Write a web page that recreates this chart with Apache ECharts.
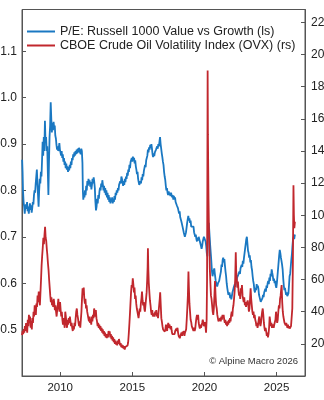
<!DOCTYPE html>
<html>
<head>
<meta charset="utf-8">
<script src="https://cdn.jsdelivr.net/npm/echarts@6/dist/echarts.min.js"></script>
<style>
html,body{margin:0;padding:0;background:#fff;}
#c{width:324px;height:400px;}
</style>
</head>
<body>
<div id="c"></div>
<script>
// P/E: Russell 1000 Value vs Growth (left scale) — [decimal year, ratio]
const blueSeries = [
[2007.36,.866],[2007.39,.84],[2007.42,.80],[2007.46,.775],[2007.50,.765],[2007.54,.75],[2007.58,.765],[2007.62,.77],[2007.66,.76],[2007.70,.775],[2007.74,.755],[2007.78,.765],[2007.82,.75],[2007.86,.762],[2007.90,.772],[2007.94,.758],[2007.98,.768],
[2008.02,.752],[2008.06,.762],[2008.10,.775],[2008.14,.77],[2008.18,.79],[2008.22,.80],[2008.26,.795],[2008.30,.815],[2008.34,.83],[2008.38,.845],[2008.42,.815],[2008.46,.79],[2008.50,.765],[2008.54,.80],[2008.58,.825],[2008.62,.815],[2008.66,.84],[2008.70,.83],[2008.74,.865],[2008.78,.905],[2008.82,.875],[2008.86,.915],[2008.90,.885],[2008.94,.95],[2008.98,.905],
[2009.02,.915],[2009.06,.885],[2009.10,.895],[2009.14,.84],[2009.18,.79],[2009.22,.86],[2009.26,.915],[2009.30,.94],[2009.34,.99],[2009.38,.955],[2009.42,.925],[2009.46,.945],[2009.50,.93],[2009.54,.948],[2009.58,.935],[2009.62,.94],[2009.66,.918],[2009.70,.912],[2009.74,.898],[2009.78,.888],[2009.82,.895],[2009.86,.885],[2009.90,.892],[2009.94,.902],[2009.98,.888],
[2010.02,.885],[2010.06,.875],[2010.10,.885],[2010.14,.87],[2010.18,.878],[2010.22,.862],[2010.26,.87],[2010.30,.855],[2010.34,.862],[2010.38,.848],[2010.42,.858],[2010.46,.845],[2010.50,.852],[2010.54,.84],[2010.58,.85],[2010.62,.843],[2010.66,.855],[2010.70,.848],[2010.74,.862],[2010.78,.855],[2010.82,.87],[2010.86,.865],[2010.90,.878],[2010.94,.872],[2010.98,.882],
[2011.02,.875],[2011.06,.885],[2011.10,.878],[2011.14,.888],[2011.18,.88],[2011.22,.89],[2011.26,.882],[2011.30,.892],[2011.34,.885],[2011.38,.888],[2011.42,.878],[2011.46,.89],[2011.50,.885],[2011.54,.86],[2011.57,.80],[2011.60,.78],[2011.64,.795],[2011.68,.785],[2011.72,.80],[2011.76,.79],[2011.80,.81],[2011.84,.80],[2011.88,.82],[2011.92,.81],[2011.96,.825],
[2012.00,.815],[2012.04,.822],[2012.08,.808],[2012.12,.818],[2012.16,.802],[2012.20,.812],[2012.24,.825],[2012.28,.815],[2012.32,.828],[2012.36,.818],[2012.40,.805],[2012.44,.775],[2012.48,.757],[2012.52,.765],[2012.56,.782],[2012.60,.772],[2012.64,.79],[2012.68,.782],[2012.72,.798],[2012.76,.806],[2012.80,.80],[2012.84,.815],[2012.88,.808],[2012.92,.822],[2012.96,.812],
[2013.00,.80],[2013.04,.81],[2013.08,.795],[2013.12,.805],[2013.16,.79],[2013.20,.80],[2013.24,.785],[2013.28,.795],[2013.32,.78],[2013.36,.79],[2013.40,.775],[2013.44,.785],[2013.48,.772],[2013.52,.782],[2013.56,.776],[2013.60,.785],[2013.64,.772],[2013.68,.78],[2013.72,.775],[2013.76,.788],[2013.80,.78],[2013.84,.795],[2013.88,.79],[2013.92,.80],[2013.96,.795],
[2014.00,.805],[2014.04,.80],[2014.08,.812],[2014.12,.808],[2014.16,.82],[2014.20,.815],[2014.24,.83],[2014.28,.825],[2014.32,.818],[2014.36,.81],[2014.40,.82],[2014.44,.812],[2014.48,.825],[2014.52,.818],[2014.56,.83],[2014.60,.825],[2014.64,.838],[2014.68,.832],[2014.72,.845],[2014.76,.84],[2014.80,.855],[2014.84,.848],[2014.88,.862],[2014.92,.858],[2014.96,.87],
[2015.00,.862],[2015.04,.873],[2015.08,.865],[2015.12,.87],[2015.16,.858],[2015.20,.865],[2015.24,.852],[2015.28,.845],[2015.32,.835],[2015.36,.84],[2015.40,.825],[2015.44,.818],[2015.48,.812],[2015.52,.808],[2015.56,.82],[2015.60,.815],[2015.64,.828],[2015.68,.822],[2015.72,.835],[2015.76,.83],[2015.80,.842],[2015.84,.838],[2015.88,.855],[2015.92,.85],[2015.96,.865],
[2016.00,.862],[2016.04,.875],[2016.08,.888],[2016.12,.882],[2016.16,.893],[2016.20,.888],[2016.24,.898],[2016.28,.892],[2016.32,.90],[2016.36,.89],[2016.40,.878],[2016.44,.872],[2016.48,.88],[2016.52,.874],[2016.56,.882],[2016.60,.878],[2016.64,.888],[2016.68,.885],[2016.72,.895],[2016.76,.89],[2016.80,.90],[2016.84,.895],[2016.88,.905],[2016.92,.915],[2016.96,.90],
[2017.00,.89],[2017.04,.88],[2017.08,.872],[2017.12,.862],[2017.16,.855],[2017.20,.84],[2017.24,.83],[2017.28,.823],[2017.32,.81],[2017.36,.80],[2017.40,.805],[2017.44,.795],[2017.48,.79],[2017.52,.798],[2017.56,.79],[2017.60,.795],[2017.64,.788],[2017.68,.795],[2017.72,.79],[2017.76,.785],[2017.80,.79],[2017.84,.78],[2017.88,.788],[2017.92,.78],[2017.96,.785],
[2018.00,.775],[2018.04,.778],[2018.08,.768],[2018.12,.772],[2018.16,.762],[2018.20,.758],[2018.24,.75],[2018.28,.755],[2018.32,.742],[2018.36,.745],[2018.40,.733],[2018.44,.73],[2018.48,.722],[2018.52,.718],[2018.56,.71],[2018.60,.705],[2018.64,.70],[2018.68,.697],[2018.72,.71],[2018.76,.72],[2018.80,.73],[2018.84,.738],[2018.88,.745],[2018.92,.735],[2018.96,.74],
[2019.00,.73],[2019.04,.735],[2019.08,.722],[2019.12,.72],[2019.16,.725],[2019.20,.718],[2019.24,.722],[2019.28,.71],[2019.32,.705],[2019.36,.70],[2019.40,.705],[2019.44,.695],[2019.48,.69],[2019.52,.698],[2019.56,.692],[2019.60,.70],[2019.64,.695],[2019.68,.69],[2019.72,.685],[2019.76,.68],[2019.80,.674],[2019.84,.68],[2019.88,.69],[2019.92,.695],[2019.96,.70],
[2020.00,.697],[2020.04,.70],[2020.08,.69],[2020.12,.68],[2020.16,.665],[2020.20,.658],[2020.24,.70],[2020.30,.73],[2020.34,.71],[2020.40,.68],[2020.46,.655],[2020.52,.625],[2020.56,.615],[2020.62,.625],[2020.68,.632],[2020.72,.62],[2020.78,.605],[2020.84,.598],[2020.88,.593],[2020.94,.60],[2020.98,.598],
[2021.02,.605],[2021.06,.612],[2021.10,.608],[2021.14,.625],[2021.18,.64],[2021.22,.635],[2021.26,.65],[2021.30,.655],[2021.34,.645],[2021.38,.652],[2021.42,.638],[2021.46,.625],[2021.50,.615],[2021.54,.60],[2021.58,.59],[2021.62,.582],[2021.66,.575],[2021.70,.572],[2021.74,.58],[2021.78,.568],[2021.82,.575],[2021.86,.565],[2021.90,.572],[2021.94,.58],[2021.98,.585],
[2022.02,.59],[2022.06,.588],[2022.10,.598],[2022.14,.592],[2022.18,.605],[2022.22,.60],[2022.26,.612],[2022.30,.608],[2022.34,.618],[2022.38,.615],[2022.42,.625],[2022.46,.62],[2022.50,.632],[2022.54,.628],[2022.58,.64],[2022.62,.635],[2022.66,.648],[2022.70,.642],[2022.74,.655],[2022.78,.665],[2022.82,.675],[2022.86,.685],[2022.90,.695],[2022.94,.70],[2022.98,.685],
[2023.02,.67],[2023.06,.665],[2023.10,.655],[2023.14,.66],[2023.18,.645],[2023.22,.65],[2023.26,.635],[2023.30,.628],[2023.34,.615],[2023.38,.605],[2023.42,.598],[2023.46,.585],[2023.50,.58],[2023.54,.59],[2023.58,.585],[2023.62,.598],[2023.66,.59],[2023.70,.595],[2023.74,.588],[2023.78,.575],[2023.82,.57],[2023.86,.565],[2023.90,.56],[2023.94,.562],[2023.98,.557],
[2024.02,.568],[2024.06,.575],[2024.10,.57],[2024.14,.58],[2024.18,.578],[2024.22,.588],[2024.26,.582],[2024.30,.595],[2024.34,.59],[2024.38,.60],[2024.42,.605],[2024.46,.598],[2024.50,.612],[2024.54,.605],[2024.58,.62],[2024.62,.615],[2024.66,.63],[2024.70,.622],[2024.74,.615],[2024.78,.605],[2024.82,.61],[2024.86,.60],[2024.90,.605],[2024.94,.595],[2024.98,.59],
[2025.02,.60],[2025.06,.615],[2025.10,.63],[2025.14,.645],[2025.18,.66],[2025.22,.672],[2025.26,.665],[2025.30,.655],[2025.34,.648],[2025.38,.64],[2025.42,.63],[2025.46,.61],[2025.50,.595],[2025.54,.585],[2025.58,.59],[2025.62,.582],[2025.66,.575],[2025.70,.58],[2025.74,.572],[2025.78,.57],[2025.82,.578],[2025.86,.595],[2025.90,.615],[2025.94,.62],[2025.98,.635],
[2026.02,.65],[2026.06,.662],[2026.10,.68],[2026.14,.695],[2026.18,.70],[2026.22,.695],[2026.27,.705]
];

// CBOE Crude Oil Volatility Index (OVX) (right scale) — [decimal year, index]
const redSeries = [
[2007.35,25.5],[2007.39,28],[2007.43,26],[2007.47,29],[2007.51,27],[2007.55,31],[2007.59,28],[2007.63,33],[2007.67,30],[2007.71,27],[2007.75,35],[2007.79,31],[2007.83,38],[2007.87,33],[2007.91,37],[2007.95,30],[2007.99,34],
[2008.03,29],[2008.07,36],[2008.11,33],[2008.15,40],[2008.19,37],[2008.23,44],[2008.27,41],[2008.31,38],[2008.35,45],[2008.39,43],[2008.43,50],[2008.47,46],[2008.51,52.5],[2008.55,47],[2008.59,44],[2008.63,52],[2008.67,60],[2008.71,69],[2008.75,75],[2008.79,80],[2008.83,86],[2008.87,82],[2008.91,88],[2008.95,92.8],[2008.99,86],
[2009.03,84],[2009.07,79],[2009.11,75],[2009.15,70],[2009.19,66],[2009.23,60],[2009.27,55],[2009.31,50],[2009.35,46],[2009.39,49],[2009.43,44],[2009.47,47],[2009.51,43],[2009.55,48],[2009.59,45],[2009.63,41],[2009.67,44],[2009.71,40],[2009.75,37],[2009.79,41],[2009.83,44],[2009.87,48],[2009.91,43],[2009.95,40],[2009.99,46],
[2010.03,41],[2010.07,37],[2010.11,40],[2010.15,35],[2010.19,32],[2010.23,36],[2010.27,33],[2010.31,30],[2010.35,40],[2010.39,37],[2010.43,33],[2010.47,30],[2010.51,35],[2010.55,32],[2010.59,36],[2010.63,33],[2010.67,37],[2010.71,34],[2010.75,31],[2010.79,33],[2010.83,30],[2010.87,28],[2010.91,31],[2010.95,29],[2010.99,33],
[2011.03,31],[2011.07,36],[2011.11,40],[2011.15,42],[2011.19,38],[2011.23,36],[2011.27,33],[2011.31,31],[2011.35,34],[2011.39,30],[2011.43,35],[2011.47,40],[2011.51,48],[2011.55,54.5],[2011.59,52],[2011.63,55],[2011.67,48],[2011.71,45],[2011.75,48],[2011.79,42],[2011.83,44],[2011.87,40],[2011.91,38],[2011.95,36],[2011.99,34],
[2012.03,37],[2012.07,33],[2012.11,35],[2012.15,32],[2012.19,37],[2012.23,34],[2012.27,38],[2012.31,36],[2012.35,42],[2012.39,40],[2012.43,37],[2012.47,41],[2012.51,36],[2012.55,34],[2012.59,31],[2012.63,33],[2012.67,30],[2012.71,32],[2012.75,29],[2012.79,31],[2012.83,28],[2012.87,30],[2012.91,27],[2012.95,29],[2012.99,26],
[2013.03,28],[2013.07,25],[2013.11,27],[2013.15,24],[2013.19,26],[2013.23,23.5],[2013.27,26],[2013.31,24],[2013.35,28],[2013.39,26],[2013.43,27.8],[2013.47,24],[2013.51,26],[2013.55,23],[2013.59,25],[2013.63,22],[2013.67,24],[2013.71,21],[2013.75,23],[2013.79,20],[2013.83,22],[2013.87,19.5],[2013.91,21],[2013.95,19],[2013.99,22],
[2014.03,20],[2014.07,23],[2014.11,21],[2014.15,19],[2014.19,20.5],[2014.23,18],[2014.27,19.5],[2014.31,17.5],[2014.35,19],[2014.39,17],[2014.43,18.5],[2014.47,16.5],[2014.51,18],[2014.55,17],[2014.59,19],[2014.63,17.5],[2014.67,19],[2014.71,21],[2014.75,26],[2014.79,31.7],[2014.83,38],[2014.87,45],[2014.91,52],[2014.95,56.6],[2014.99,55],
[2015.03,60.7],[2015.07,57],[2015.11,52],[2015.15,55],[2015.19,48],[2015.23,50],[2015.27,45],[2015.31,42],[2015.35,40],[2015.39,38],[2015.43,36],[2015.47,39],[2015.51,42],[2015.55,40],[2015.59,45],[2015.63,48],[2015.67,52.5],[2015.71,47],[2015.75,44],[2015.79,46],[2015.83,42],[2015.87,40],[2015.91,44],[2015.95,48],[2015.99,52],
[2016.03,60],[2016.06,68],[2016.08,79.4],[2016.11,66],[2016.14,58],[2016.18,52],[2016.22,47],[2016.26,44],[2016.30,40],[2016.34,38],[2016.38,41],[2016.42,37],[2016.46,36],[2016.50,39],[2016.54,37],[2016.58,40],[2016.62,38],[2016.66,41],[2016.70,37],[2016.74,39],[2016.78,36],[2016.82,40],[2016.86,44],[2016.90,48],[2016.93,52],[2016.97,44],
[2017.01,36],[2017.05,33.6],[2017.09,31],[2017.13,29],[2017.17,30],[2017.21,28],[2017.25,27.6],[2017.29,29],[2017.33,32],[2017.37,30],[2017.41,28],[2017.45,31],[2017.49,33],[2017.53,30],[2017.57,32],[2017.61,31.5],[2017.65,29],[2017.69,31],[2017.73,28],[2017.77,26],[2017.81,27],[2017.85,25],[2017.89,27],[2017.93,26],[2017.97,28],
[2018.01,27],[2018.05,29.5],[2018.09,28],[2018.13,30],[2018.17,27],[2018.21,25],[2018.25,26],[2018.29,23.5],[2018.33,25],[2018.37,24],[2018.41,27],[2018.45,25],[2018.49,27.6],[2018.53,26],[2018.57,28],[2018.61,25],[2018.65,27],[2018.69,26],[2018.73,29],[2018.77,35],[2018.81,42],[2018.85,50],[2018.89,65],[2018.92,55],[2018.96,45],
[2019.00,40],[2019.04,35],[2019.08,33.6],[2019.12,31],[2019.16,32],[2019.20,30],[2019.24,28],[2019.28,30],[2019.32,28],[2019.36,29.5],[2019.40,33],[2019.44,36],[2019.48,38],[2019.52,35],[2019.56,38],[2019.60,33],[2019.64,31],[2019.68,29.5],[2019.72,32],[2019.76,30],[2019.80,29.5],[2019.84,33],[2019.88,35],[2019.92,33.6],[2019.96,31],
[2020.00,30],[2020.04,33.6],[2020.08,30],[2020.11,27],[2020.15,35],[2020.18,60],[2020.20,120],[2020.22,190],[2020.24,150],[2020.26,130],[2020.28,110],[2020.31,92],[2020.34,80],[2020.37,67],[2020.41,58],[2020.45,50],[2020.49,48],[2020.53,44],[2020.57,40],[2020.61,38],[2020.65,42],[2020.69,50],[2020.73,59],[2020.77,50],[2020.81,44],[2020.85,42],[2020.89,38],[2020.93,36],[2020.97,34],
[2021.01,35],[2021.05,33.6],[2021.09,36],[2021.13,34],[2021.17,37],[2021.21,35],[2021.25,38],[2021.29,36],[2021.33,38],[2021.37,35],[2021.41,33],[2021.45,35],[2021.49,32],[2021.53,33.6],[2021.57,31],[2021.61,34],[2021.65,32],[2021.69,35],[2021.73,33],[2021.77,36],[2021.81,34],[2021.85,38],[2021.89,40],[2021.93,37],[2021.97,42],
[2022.01,44],[2022.05,48],[2022.09,52.6],[2022.13,60],[2022.17,77],[2022.20,65],[2022.24,60],[2022.28,55],[2022.32,58.7],[2022.36,53],[2022.40,50],[2022.44,52],[2022.48,48],[2022.52,54.5],[2022.56,52],[2022.60,56.6],[2022.64,50],[2022.68,48],[2022.72,46],[2022.76,49],[2022.80,44],[2022.84,46],[2022.88,43],[2022.92,45],[2022.96,44],
[2023.00,47],[2023.04,44],[2023.08,40],[2023.12,42],[2023.16,48],[2023.20,54.5],[2023.24,48],[2023.28,44],[2023.32,40],[2023.36,38],[2023.40,40],[2023.44,36],[2023.48,38],[2023.52,35],[2023.56,33.6],[2023.60,31],[2023.64,33],[2023.68,30],[2023.72,32],[2023.76,35],[2023.80,37],[2023.84,33],[2023.88,31],[2023.92,33],[2023.96,37],
[2024.00,40],[2024.04,42],[2024.08,38],[2024.12,33],[2024.16,30],[2024.20,28],[2024.24,30],[2024.28,27.8],[2024.32,25],[2024.36,27],[2024.40,24],[2024.44,26],[2024.48,30],[2024.52,37],[2024.56,34],[2024.60,31],[2024.64,33],[2024.68,30],[2024.72,32],[2024.76,33],[2024.80,30],[2024.84,32],[2024.88,31.7],[2024.92,35],[2024.96,40],
[2025.00,36],[2025.04,33],[2025.08,35],[2025.12,40],[2025.16,44],[2025.20,42],[2025.24,48],[2025.28,50],[2025.32,54],[2025.35,56.6],[2025.39,46],[2025.43,40],[2025.47,37],[2025.51,35],[2025.55,33],[2025.59,34],[2025.63,31.5],[2025.67,33],[2025.71,32],[2025.75,30],[2025.79,32],[2025.83,29.7],[2025.87,31],[2025.91,29.5],[2025.95,30],
[2026.00,31],[2026.05,30],[2026.09,42],[2026.13,70],[2026.17,118.7],[2026.20,100],[2026.23,92],[2026.27,96]
];

const xTickYears = [2010, 2015, 2020, 2025];
const leftTicks = [0.5, 0.6, 0.7, 0.8, 0.9, 1.0, 1.1];
const rightTicks = [20, 40, 60, 80, 100, 120, 140, 160, 180, 200, 220];

const blueName = 'P/E: Russell 1000 Value vs Growth (ls)';
const redName = 'CBOE Crude Oil Volatility Index (OVX) (rs)';
const BLUE = '#1a78c2';
const RED = '#c1272d';
const FONT = 'Liberation Sans, Arial, sans-serif';

const chart = echarts.init(document.getElementById('c'), null, {renderer: 'canvas'});
chart.setOption({
  animation: false,
  backgroundColor: '#fff',
  grid: {left: 22, right: 19, top: 9.5, bottom: 24, show: true, borderColor: '#555', borderWidth: 1, containLabel: false, outerBoundsMode: 'none'},
  legend: {
    left: 22, top: 20, orient: 'vertical', itemGap: 1,
    icon: 'rect', itemWidth: 28, itemHeight: 2,
    textStyle: {fontFamily: FONT, fontSize: 12.5, color: '#222'},
    data: [blueName, redName]
  },
  xAxis: {
    type: 'value', min: 2007.35, max: 2026.97,
    splitLine: {show: false},
    axisLine: {show: true, lineStyle: {color: '#555', width: 1}},
    axisTick: {show: true, inside: true, length: 4, customValues: xTickYears, lineStyle: {color: '#555'}},
    axisLabel: {customValues: xTickYears, margin: 6, fontFamily: FONT, fontSize: 11.5, color: '#222', formatter: v => String(Math.round(v))}
  },
  yAxis: [
    {
      type: 'value', position: 'left', min: 0.4, max: 1.19,
      splitLine: {show: false},
      axisLine: {show: true, lineStyle: {color: '#555'}},
      axisTick: {show: true, inside: true, length: 4, customValues: leftTicks, lineStyle: {color: '#555'}},
      axisLabel: {customValues: leftTicks, margin: 5, fontFamily: FONT, fontSize: 12, color: '#222', formatter: v => v.toFixed(1)}
    },
    {
      type: 'value', position: 'right', min: 0, max: 228,
      splitLine: {show: false},
      axisLine: {show: true, lineStyle: {color: '#555'}},
      axisTick: {show: true, inside: true, length: 4, customValues: rightTicks, lineStyle: {color: '#555'}},
      axisLabel: {customValues: rightTicks, margin: 6, fontFamily: FONT, fontSize: 12, color: '#222', formatter: v => String(Math.round(v))}
    }
  ],
  series: [
    {
      name: blueName, type: 'line', yAxisIndex: 0, symbol: 'none',
      lineStyle: {color: BLUE, width: 1.8}, itemStyle: {color: BLUE},
      data: blueSeries
    },
    {
      name: redName, type: 'line', yAxisIndex: 1, symbol: 'none',
      lineStyle: {color: RED, width: 1.8}, itemStyle: {color: RED},
      data: redSeries
    }
  ],
  graphic: [{
    type: 'text', right: 26, top: 356,
    style: {text: '© Alpine Macro 2026', font: '9.5px ' + FONT, fill: '#333'}
  }]
});
</script>
</body>
</html>
